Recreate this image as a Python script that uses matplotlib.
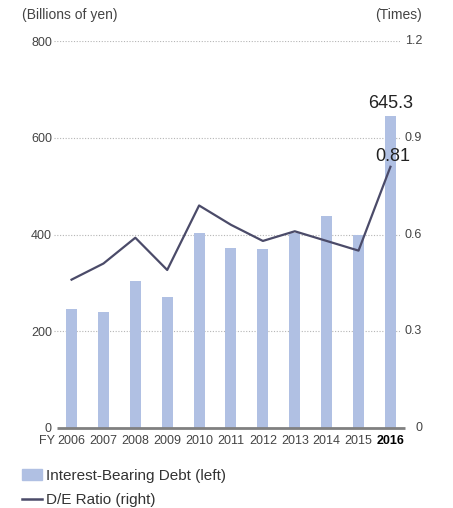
import matplotlib as mpl
mpl.use("Agg")
import matplotlib.pyplot as plt
import matplotlib.transforms as mtransforms
from matplotlib.patches import Patch
from matplotlib.lines import Line2D

plt.rcParams['font.family'] = ['Liberation Sans', 'DejaVu Sans']

years = ['2006', '2007', '2008', '2009', '2010', '2011', '2012', '2013', '2014', '2015', '2016']
debt = [246, 240, 304, 271, 403, 372, 370, 404, 438, 399, 645.3]
de_ratio = [0.46, 0.51, 0.59, 0.49, 0.69, 0.63, 0.58, 0.61, 0.58, 0.55, 0.81]
right_ticks = [0, 0.3, 0.6, 0.9, 1.2]
right_labels = ['0', '0.3', '0.6', '0.9', '1.2']

BAR = '#b0c0e3'
LINE = '#4b4b69'
TXT = '#444444'

W, H = 453, 508
fig = plt.figure(figsize=(W / 100, H / 100), dpi=100)
ax = fig.add_axes([54 / W, (H - 428) / H, (400 - 54) / W, (428 - 41) / H])
x = list(range(len(years)))

ax.bar(x, debt, width=0.345, color=BAR, zorder=2)
ax.set_ylim(0, 800)
ax.set_xlim(-0.55, 10.30)
ax.set_yticks([0, 200, 400, 600, 800])
for v in [200, 400, 600, 800]:
    ax.axhline(v, color='#b5b5b5', lw=0.8, ls=(0, (1, 1.5)), zorder=1)
# baseline runs a little past both ends of the grid
ax.plot([-0.45, 10.45], [0, 0], color='#808080', lw=2, zorder=3, clip_on=False,
        solid_capstyle='butt')
for s in ax.spines.values():
    s.set_visible(False)
ax.tick_params(axis='y', length=0, pad=1.5, labelsize=9, labelcolor=TXT)
ax.tick_params(axis='x', length=0, pad=5, labelsize=9, labelcolor=TXT)
ax.set_xticks(x)
ax.set_xticklabels(years)
ax.get_xticklabels()[-1].set_fontweight('bold')
ax.get_xticklabels()[-1].set_color('black')
ax.annotate('FY', (-0.53, 0), xycoords=('data', 'axes fraction'), xytext=(0, -5),
            textcoords='offset points', ha='right', va='top', fontsize=9, color=TXT)

ax2 = ax.twinx()
ax2.set_position(ax.get_position())
ax2.plot(x, de_ratio, color=LINE, lw=1.6, zorder=4)
ax2.set_ylim(0, 1.2)
ax2.set_yticks([])
for s in ax2.spines.values():
    s.set_visible(False)
# right-hand labels are right-aligned at a fixed x
rtrans = mtransforms.blended_transform_factory(fig.transFigure, ax2.transData)
for v, lab in zip(right_ticks, right_labels):
    ax2.text(422 / W, v, lab, transform=rtrans, ha='right', va='center', fontsize=9, color=TXT)

ax.annotate(f'{debt[-1]:.1f}', (x[-1], debt[-1]), xytext=(0, 3), textcoords='offset points',
            ha='center', va='bottom', fontsize=13, color='#222222')
ax2.annotate(f'{de_ratio[-1]:.2f}', (x[-1], de_ratio[-1]), xytext=(2, 1), textcoords='offset points',
             ha='center', va='bottom', fontsize=13, color='#222222')

fig.text(22 / W, 1 - 15 / H, '(Billions of yen)', ha='left', va='center', fontsize=10, color=TXT)
fig.text(422 / W, 1 - 15 / H, '(Times)', ha='right', va='center', fontsize=10, color=TXT)

handles = [Patch(color=BAR), Line2D([], [], color=LINE, lw=1.8)]
labels = ['Interest-Bearing Debt (left)', 'D/E Ratio (right)']
fig.legend(handles, labels, loc='upper left', bbox_to_anchor=(8 / W, 1 - 455 / H),
           frameon=False, fontsize=11, handlelength=1.3, handletextpad=0.3,
           labelspacing=0.7, labelcolor='#333333')

fig.savefig('out.png', dpi=100)
